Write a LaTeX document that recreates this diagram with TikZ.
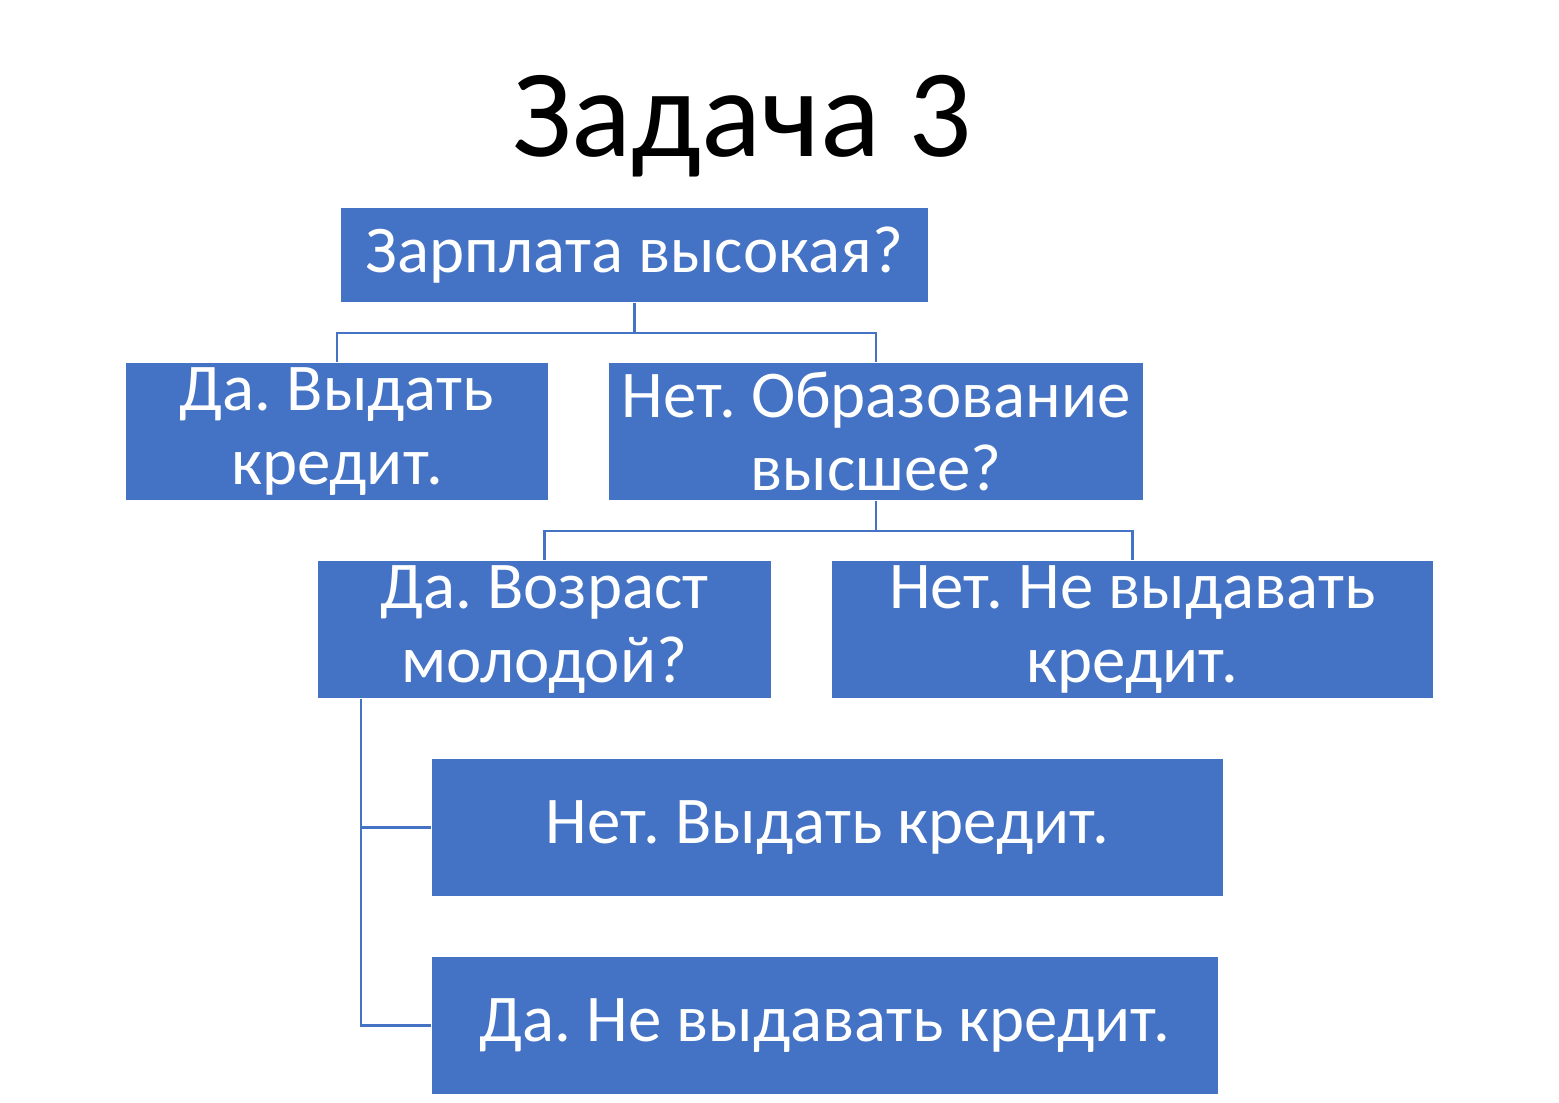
\documentclass[tikz,border=0pt]{standalone}
\usepackage{fontspec}
\setmainfont{Carlito}
\usetikzlibrary{positioning}
\definecolor{boxblue}{HTML}{4472C4}
\frenchspacing

\begin{document}
\begin{tikzpicture}[x=0.01cm, y=-0.01cm,
		link/.style = {draw=boxblue, line width=0.6pt},
		blk/.style args = {#1/#2}{%
		rectangle, fill=boxblue, text=white, inner sep=0pt, align=center,
		minimum width=#1*0.01cm, minimum height=#2*0.01cm,
		font=\fontsize{19}{21}\selectfont}
                    ]
		\useasboundingbox (0,0) rectangle (1559,1103);

		\node(T) at (742,126) {\fontsize{35.6}{40}\selectfont Задача 3};

		\node(Q)  [blk=587/94]  at (634.5,255)   {Зарплата высокая?};
		\node(Y1) [blk=422/137] at (337,431.5)   {Да. Выдать\\кредит.};
		\node(N1) [blk=534/137] at (876,431.5)   {Нет. Образование\\высшее?};
		\node(Y2) [blk=453/137] at (544.5,629.5) {Да. Возраст\\молодой?};
		\node(N2) [blk=601/137] at (1132.5,629.5){Нет. Не выдавать\\кредит.};
		\node(N3) [blk=791/137] at (827.5,827.5) {Нет. Выдать кредит.};
		\node(Y3) [blk=786/137] at (825,1025.5)  {Да. Не выдавать кредит.};

		% tree links
		\draw[link] (Q.south) -- ++(0,30) -| (Y1.north);
		\draw[link] (Q.south) -- ++(0,30) -| (N1.north);
		\draw[link] (N1.south) -- ++(0,30) -| (Y2.north);
		\draw[link] (N1.south) -- ++(0,30) -| (N2.north);
		\coordinate (y2b) at ([xshift=0.44cm]Y2.south west);
		\draw[link] (y2b) |- (N3.west);
		\draw[link] (y2b) |- (Y3.west);
	\end{tikzpicture}
\end{document}
